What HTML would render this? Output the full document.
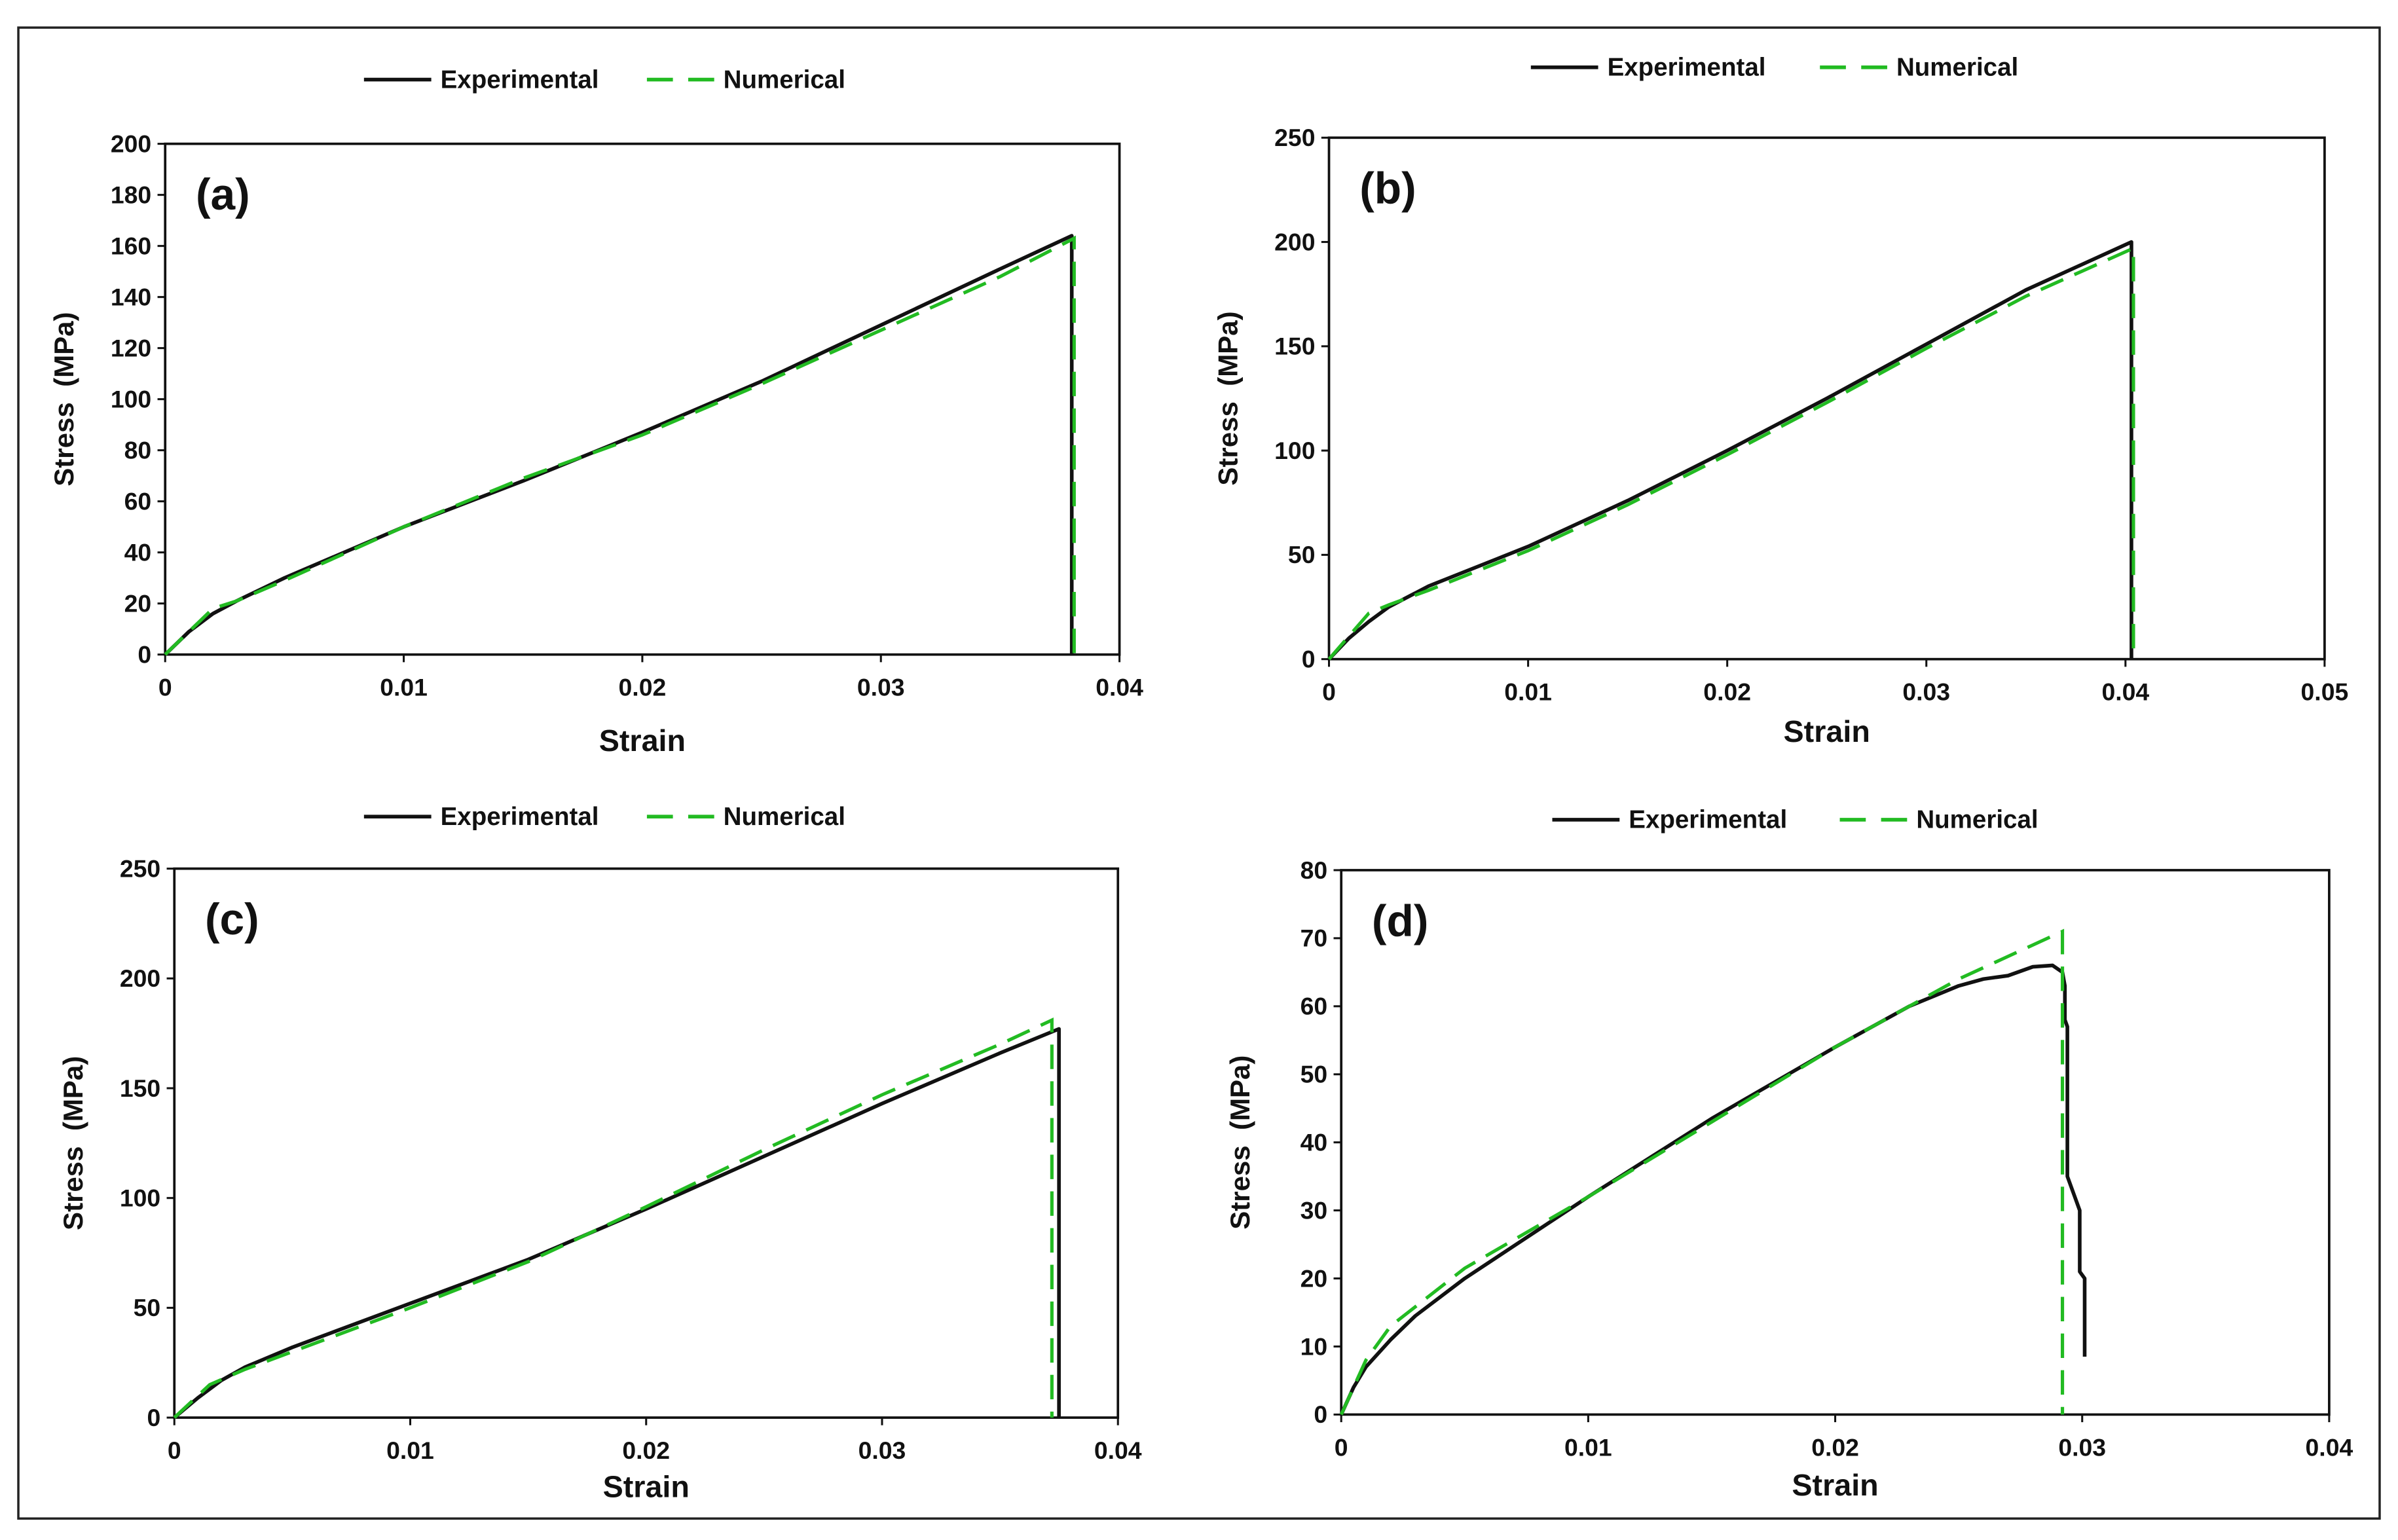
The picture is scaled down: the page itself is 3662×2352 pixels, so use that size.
<!DOCTYPE html>
<html><head><meta charset="utf-8"><style>
html,body{margin:0;padding:0;background:#fff}
svg{display:block}
text{font-family:"Liberation Sans Narrow","Liberation Sans",sans-serif;font-weight:bold;fill:#111}
.ttl{font-family:"Liberation Sans",sans-serif}
</style></head><body>
<svg id="fig" width="3662" height="2352" viewBox="0 0 1568 1007" xmlns="http://www.w3.org/2000/svg">
<rect x="12" y="18" width="1544" height="975" fill="#fff" stroke="#222" stroke-width="1.5"/>
</svg>
<script>
// Panel (a)
const aExpX=[0,0.001,0.002,0.003,0.005,0.01,0.015,0.02,0.025,0.03,0.035,0.038,0.038];
const aExpY=[0,9,16,21,30,50,68,87,107,129,151,164,0];
const aNumX=[0,0.002,0.003,0.005,0.01,0.015,0.02,0.025,0.03,0.035,0.0381,0.0381];
const aNumY=[0,18,21,29,50,69,86,106,127,148,163,0];
const aYTicks=[0,20,40,60,80,100,120,140,160,180,200];
const aXTicks=[0,0.01,0.02,0.03,0.04];
// Panel (b)
const bExpX=[0,0.001,0.002,0.003,0.005,0.01,0.015,0.02,0.025,0.03,0.035,0.0403,0.0403];
const bExpY=[0,10,18,25,35,54,76,100,125,151,177,200,0];
const bNumX=[0,0.002,0.003,0.005,0.01,0.015,0.02,0.025,0.03,0.035,0.0404,0.0404];
const bNumY=[0,22,26,33,52,74,98,123,149,174,197,0];
const bYTicks=[0,50,100,150,200,250];
const bXTicks=[0,0.01,0.02,0.03,0.04,0.05];
// Panel (c)
const cExpX=[0,0.001,0.002,0.003,0.005,0.01,0.015,0.02,0.025,0.03,0.035,0.0375,0.0375];
const cExpY=[0,9,17,23,32,52,72,95,119,143,166,177,0];
const cNumX=[0,0.0015,0.003,0.005,0.01,0.015,0.02,0.025,0.03,0.035,0.0372,0.0372];
const cNumY=[0,15,22,30,50,71,96,122,147,170,181,0];
const cYTicks=[0,50,100,150,200,250];
const cXTicks=[0,0.01,0.02,0.03,0.04];
// Panel (d)
const dExpX=[0,0.0005,0.001,0.002,0.003,0.005,0.01,0.015,0.02,0.023,0.025,0.026,0.027,0.028,0.0288,0.0292,0.0293,0.0293,0.0294,0.0294,0.0297,0.0299,0.0299,0.0301,0.0301];
const dExpY=[0,4,7,11,14.5,20,32,43.5,54,60,63,64,64.5,65.8,66,65,63,58,57,35,32,30,21,20,8.5];
const dNumX=[0,0.001,0.002,0.005,0.01,0.015,0.02,0.025,0.0292,0.0292];
const dNumY=[0,8,13,21.5,32,43,54,64,71,0];
const dYTicks=[0,10,20,30,40,50,60,70,80];
const dXTicks=[0,0.01,0.02,0.03,0.04];

const NS="http://www.w3.org/2000/svg";
const svg=document.getElementById('fig');
function mk(tag,attrs,parent){const e=document.createElementNS(NS,tag);for(const k in attrs)e.setAttribute(k,attrs[k]);(parent||svg).appendChild(e);return e;}
function fmt(v){return v===0?'0':String(v);}

function panel(id,box,xmax,ymax,xt,yt,ex,ey,nx,ny,leg,xto){
  const g=mk('g',{});
  
  
  const sx=v=>box.l+(box.r-box.l)*v/xmax;
  const sy=v=>box.b-(box.b-box.t)*v/ymax;
  const fr=mk('rect',{x:box.l,y:box.t,width:box.r-box.l,height:box.b-box.t,fill:'none',stroke:'#111','stroke-width':1.6},g);
  
  
  yt.forEach(v=>{
    const y=sy(v);
    mk('line',{x1:box.l-5,x2:box.l,y1:y,y2:y,stroke:'#111','stroke-width':1.3},g);
    const t=mk('text',{x:box.l-9,y:y+5.5,'text-anchor':'end','font-size':16},g);
    t.textContent=fmt(v);
    
    
  });
  xt.forEach(v=>{
    const x=sx(v);
    mk('line',{x1:x,x2:x,y1:box.b,y2:box.b+5,stroke:'#111','stroke-width':1.3},g);
    const t=mk('text',{x:x,y:box.b+27,'text-anchor':'middle','font-size':16},g);
    t.textContent=fmt(v);
    
    
  });
  const xtl=mk('text',{x:(box.l+box.r)/2,y:box.b+xto,'text-anchor':'middle','font-size':20},g);
  xtl.textContent='Strain';
  
  
  const cy=(box.t+box.b)/2, cx=box.l-60;
  const ytl=mk('text',{x:cx,y:cy,'text-anchor':'middle','font-size':18,class:'ttl',transform:'rotate(-90 '+cx+' '+cy+')'},g);
  ytl.textContent='Stress  (MPa)';
  ytl.setAttribute('style','white-space:pre');
  
  
  const pl=mk('text',{x:box.l+20,y:box.t+43,'font-size':29,class:'ttl'},g);
  pl.textContent='('+id+')';
  
  
  const pe=mk('polyline',{points:ex.map((x,i)=>sx(x)+','+sy(ey[i])).join(' '),fill:'none',stroke:'#111','stroke-width':2.4,'stroke-linejoin':'round'},g);
  
  
  const pn=mk('polyline',{points:nx.map((x,i)=>sx(x)+','+sy(ny[i])).join(' '),fill:'none',stroke:'#22bb22','stroke-width':2.2,'stroke-dasharray':'16 8'},g);
  
  
  const lg=mk('g',{},g);
  
  
  mk('line',{x1:leg.x1,x2:leg.x1+44,y1:leg.y,y2:leg.y,stroke:'#111','stroke-width':2.4},lg);
  const t1=mk('text',{x:leg.x1+50,y:leg.y+5.5,'font-size':16.5},lg);
  t1.textContent='Experimental';
  
  
  mk('line',{x1:leg.x2,x2:leg.x2+44,y1:leg.y,y2:leg.y,stroke:'#22bb22','stroke-width':2.4,'stroke-dasharray':'17 10'},lg);
  const t2=mk('text',{x:leg.x2+50,y:leg.y+5.5,'font-size':16.5},lg);
  t2.textContent='Numerical';
  
  
}
panel('a',{l:108,r:732,t:94,b:428},0.04,200,aXTicks,aYTicks,aExpX,aExpY,aNumX,aNumY,{x1:238,x2:423,y:52},63);
panel('b',{l:869,r:1520,t:90,b:431},0.05,250,bXTicks,bYTicks,bExpX,bExpY,bNumX,bNumY,{x1:1001,x2:1190,y:44},54);
panel('c',{l:114,r:731,t:568,b:927},0.04,250,cXTicks,cYTicks,cExpX,cExpY,cNumX,cNumY,{x1:238,x2:423,y:534},52);
panel('d',{l:877,r:1523,t:569,b:925},0.04,80,dXTicks,dYTicks,dExpX,dExpY,dNumX,dNumY,{x1:1015,x2:1203,y:536},53);
</script>
</body></html>
